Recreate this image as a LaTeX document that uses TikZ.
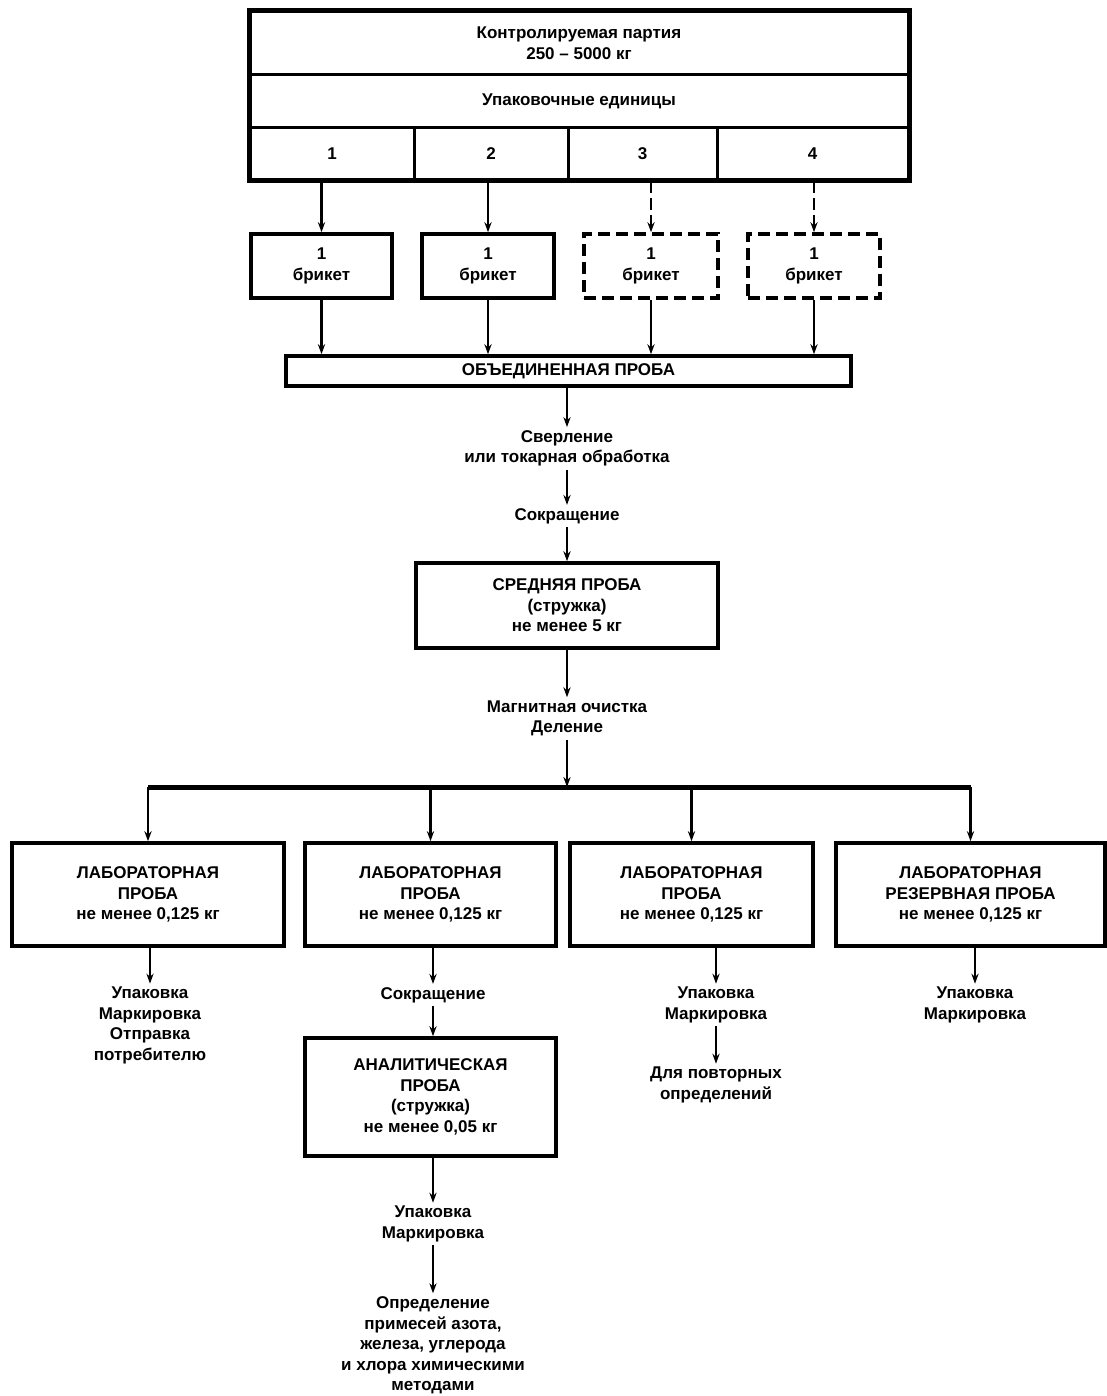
\documentclass[tikz,border=0pt]{standalone}
\usepackage{fontspec}
\setmainfont{Liberation Sans}
\usetikzlibrary{arrows.meta}

\begin{document}
\begin{tikzpicture}[x=0.5pt,y=-0.5pt]
        \tikzstyle{every node}=[font=\fontsize{8.5}{10.3}\selectfont\bfseries, align=center]
        \tikzstyle{cell}=[draw, line width=1.5pt, inner sep=0pt]
        \tikzstyle{box}=[draw, line width=1.8pt, inner sep=0pt]
        \tikzstyle{dbox}=[box, dash pattern=on 6pt off 3pt]
        \tikzstyle{txt}=[inner sep=1.5pt]
        \tikzstyle{arr}=[line width=1.3pt, -{Stealth[length=5pt,width=3.6pt]}]
        \useasboundingbox (0,0) rectangle (1107,1396);
        % partiya
        \node[cell, minimum width=329pt, minimum height=31.5pt] (lot) at (579,43.5) {Контролируемая партия\\250 -- 5000 кг};
        \node[cell, minimum width=329pt, minimum height=26.5pt] (units) at (579,101.5) {Упаковочные единицы};
        \node[cell, minimum width=82pt, minimum height=26pt] (u1) at (332,154) {1};
        \node[cell, minimum width=77pt, minimum height=26pt] (u2) at (491,154) {2};
        \node[cell, minimum width=74.5pt, minimum height=26pt] (u3) at (642.5,154) {3};
        \node[cell, minimum width=95.5pt, minimum height=26pt] (u4) at (812.5,154) {4};
        \draw[line width=2pt] (lot.north west) rectangle (u4.south east);
        % brikety
        \node[box, minimum width=70.5pt, minimum height=32pt] (b1) at (321.5,266) {1\\брикет};
        \node[box, minimum width=66pt, minimum height=32pt] (b2) at (488,266) {1\\брикет};
        \node[dbox, minimum width=67pt, minimum height=32pt] (b3) at (651,266) {1\\брикет};
        \node[dbox, minimum width=66pt, minimum height=32pt] (b4) at (814,266) {1\\брикет};
        \node[box, minimum width=282.5pt, minimum height=15pt] (comb) at (568.5,371) {ОБЪЕДИНЕННАЯ ПРОБА};
        \draw[arr] (b1 |- u1.south) -- (b1.north);
        \draw[arr] (b2 |- u2.south) -- (b2.north);
        \draw[arr, dash pattern=on 6pt off 2.5pt] (b3 |- u3.south) -- (b3.north);
        \draw[arr, dash pattern=on 6pt off 2.5pt] (b4 |- u4.south) -- (b4.north);
        \foreach \i in {1,...,4}
            \draw[arr] (b\i.south) -- (b\i |- comb.north);
        % srednyaya proba
        \node[txt] (drill) at (567,448.5) {Сверление\\или токарная обработка};
        \node[txt] (cut) at (567,516) {Сокращение};
        \node[box, minimum width=151pt, minimum height=42.5pt] (avg) at (567,605.5) {СРЕДНЯЯ ПРОБА\\(стружка)\\не менее 5 кг};
        \node[txt] (magn) at (567,718.5) {Магнитная очистка\\Деление};
        \draw[arr] (comb.south -| drill) -- (drill.north);
        \draw[arr] (drill.south) -- (cut.north);
        \draw[arr] (cut.south) -- (avg.north);
        \draw[arr] (avg.south) -- (magn.north);
        % laboratornye proby
        \node[box, minimum width=136pt, minimum height=51.5pt] (lab1) at (148,894.5) {ЛАБОРАТОРНАЯ\\ПРОБА\\не менее 0,125 кг};
        \node[box, minimum width=125.5pt, minimum height=51.5pt] (lab2) at (430.5,894.5) {ЛАБОРАТОРНАЯ\\ПРОБА\\не менее 0,125 кг};
        \node[box, minimum width=121.5pt, minimum height=51.5pt] (lab3) at (691.5,894.5) {ЛАБОРАТОРНАЯ\\ПРОБА\\не менее 0,125 кг};
        \node[box, minimum width=134.5pt, minimum height=51.5pt] (lab4) at (970.5,894.5) {ЛАБОРАТОРНАЯ\\РЕЗЕРВНАЯ ПРОБА\\не менее 0,125 кг};
        \coordinate (split) at (567,787);
        \draw[arr] (magn.south) -- (split);
        \draw[line width=2.5pt] (lab1 |- split) -- (lab4 |- split);
        \foreach \i in {1,...,4}
            \draw[arr] (lab\i |- split) -- (lab\i.north);
        % dalee
        \node[txt] (pack1) at (150,1025.5) {Упаковка\\Маркировка\\Отправка\\потребителю};
        \node[txt] (cut2) at (433,995) {Сокращение};
        \node[box, minimum width=125.5pt, minimum height=59pt] (anal) at (430.5,1097) {АНАЛИТИЧЕСКАЯ\\ПРОБА\\(стружка)\\не менее 0,05 кг};
        \node[txt] (pack2) at (433,1224) {Упаковка\\Маркировка};
        \node[txt] (det) at (433,1345.5) {Определение\\примесей азота,\\железа, углерода\\и хлора химическими\\методами};
        \node[txt] (pack3) at (716,1005) {Упаковка\\Маркировка};
        \node[txt] (rep) at (716,1085) {Для повторных\\определений};
        \node[txt] (pack4) at (975,1005) {Упаковка\\Маркировка};
        \draw[arr] (lab1.south -| pack1) -- (pack1.north);
        \draw[arr] (lab2.south -| cut2) -- (cut2.north);
        \draw[arr] (cut2.south) -- (anal.north -| cut2);
        \draw[arr] (anal.south -| pack2) -- (pack2.north);
        \draw[arr] (pack2.south) -- (det.north);
        \draw[arr] (lab3.south -| pack3) -- (pack3.north);
        \draw[arr] (pack3.south) -- (rep.north);
        \draw[arr] (lab4.south -| pack4) -- (pack4.north);
\end{tikzpicture}
\end{document}
